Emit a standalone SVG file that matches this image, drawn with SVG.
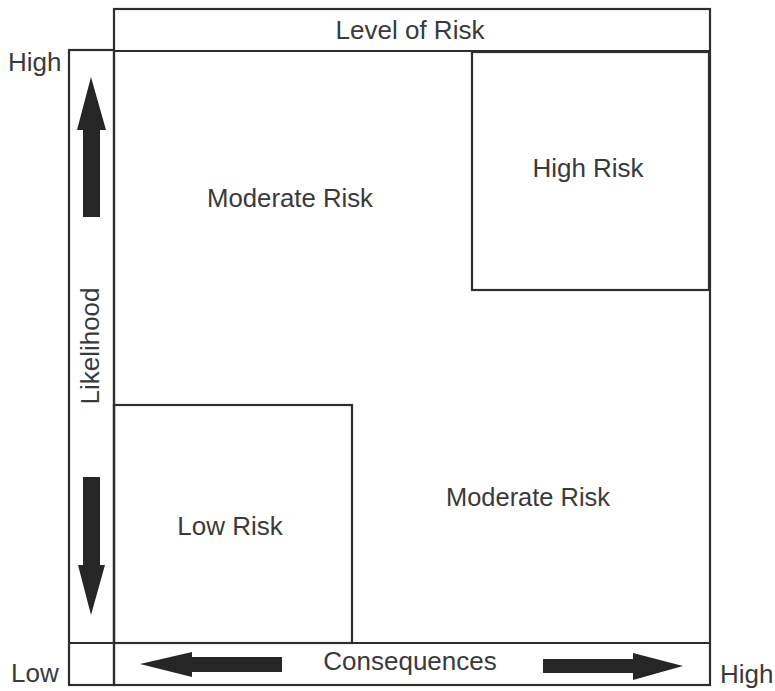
<svg xmlns="http://www.w3.org/2000/svg" width="775" height="691" viewBox="0 0 775 691">
<style>
.ln{fill:none;stroke:#2e2e2e;stroke-width:2.2}
.t{font-family:"Liberation Sans",Arial,sans-serif;font-size:26px;fill:#3a3a3a}
.ar{fill:#262626}
</style>
<rect width="775" height="691" fill="#fff"/>
<g id="frame">
<rect class="ln" x="114" y="9" width="596" height="676"/>
<line class="ln" x1="114" y1="51" x2="710" y2="51"/>
<rect class="ln" x="69" y="50" width="45" height="635"/>
<line class="ln" x1="69" y1="643" x2="710" y2="643"/>
</g>
<g id="level-of-risk"><text class="t" x="410" y="39" text-anchor="middle">Level of Risk</text></g>
<g id="high-risk">
<rect class="ln" x="472" y="52" width="237" height="238"/>
<text class="t" x="588" y="177" text-anchor="middle">High Risk</text>
</g>
<g id="low-risk">
<rect class="ln" x="114" y="405" width="238" height="238"/>
<text class="t" x="230" y="535" text-anchor="middle">Low Risk</text>
</g>
<g id="moderate-risk-top"><text class="t" x="290" y="207" text-anchor="middle" textLength="166" lengthAdjust="spacingAndGlyphs">Moderate Risk</text></g>
<g id="moderate-risk-bottom"><text class="t" x="528" y="506" text-anchor="middle" textLength="164" lengthAdjust="spacingAndGlyphs">Moderate Risk</text></g>
<g id="likelihood">
<text class="t" transform="translate(99,346) rotate(-90)" text-anchor="middle" font-size="25">Likelihood</text>
</g>
<g id="consequences"><text class="t" x="410" y="670" text-anchor="middle">Consequences</text></g>
<g id="labels">
<text class="t" x="8" y="71" font-size="25">High</text>
<text class="t" x="11" y="682" font-size="25">Low</text>
<text class="t" x="720" y="683" font-size="25">High</text>
</g>
<g id="connectors">
<polygon class="ar" points="91,77 106,130 100,130 100,217 83,217 83,130 77,130"/>
<polygon class="ar" points="91,615 105,565 100,565 100,477 83,477 83,565 78,565"/>
<polygon class="ar" points="140,664 192,652 192,657 282,657 282,672 192,672 192,677"/>
<polygon class="ar" points="683,666 633,653 633,659 543,659 543,673 633,673 633,680"/>
</g>
</svg>
